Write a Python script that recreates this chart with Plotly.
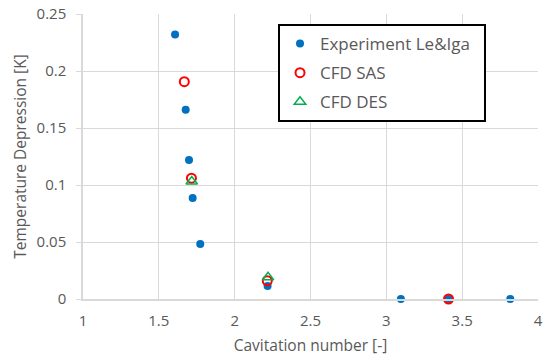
import plotly.graph_objects as go

# Experiment Le&Iga
exp_x = [1.607, 1.677, 1.699, 1.723, 1.773, 2.217, 3.096, 3.41, 3.817]
exp_y = [0.232, 0.166, 0.122, 0.0886, 0.0482, 0.0115, 0.0, 0.0, 0.0]

# CFD SAS
sas_x = [1.668, 1.715, 2.215, 3.41]
sas_y = [0.1906, 0.106, 0.016, 0.0]

# CFD DES
des_x = [1.717, 2.22]
des_y = [0.103, 0.019]

x_ticks = [1, 1.5, 2, 2.5, 3, 3.5, 4]
x_tick_labels = ["1", "1.5", "2", "2.5", "3", "3.5", "4"]
y_ticks = [0, 0.05, 0.1, 0.15, 0.2, 0.25]
y_tick_labels = ["0", "0.05", "0.1", "0.15", "0.2", "0.25"]

grey = "#595959"
grid = "#d9d9d9"
font_family = "Open Sans, Segoe UI, sans-serif"

fig = go.Figure()
fig.add_trace(go.Scatter(
    x=exp_x, y=exp_y, mode="markers", name="Experiment Le&Iga\u00a0\u00a0",
    marker=dict(symbol="circle", size=8, color="#0070C0", line=dict(width=0)),
    legendgroup="a", cliponaxis=False))
fig.add_trace(go.Scatter(
    x=sas_x, y=sas_y, mode="markers", name="CFD SAS",
    marker=dict(symbol="circle-open", size=9, color="#FF0000", line=dict(width=2)),
    legendgroup="b", cliponaxis=False))
fig.add_trace(go.Scatter(
    x=des_x, y=des_y, mode="markers", name="CFD DES",
    marker=dict(symbol="triangle-up-open", size=10, color="#00B050", line=dict(width=1.5)),
    legendgroup="c", cliponaxis=False))

fig.update_layout(
    width=550, height=364,
    margin=dict(l=83, r=12, t=14, b=65, autoexpand=False),
    paper_bgcolor="white", plot_bgcolor="white",
    font=dict(family=font_family, size=15, color=grey),
    showlegend=True,
    legend=dict(
        x=0.4286, y=0.965, xanchor="left", yanchor="top",
        bgcolor="white", bordercolor="black", borderwidth=2,
        font=dict(size=17, color=grey), tracegroupgap=4,
    ),
    xaxis=dict(
        range=[1, 4], tickvals=x_ticks, ticktext=x_tick_labels,
        showgrid=True, gridcolor=grid, gridwidth=1,
        showline=True, linecolor=grid, linewidth=1.5,
        zeroline=False, ticks="", mirror=False, automargin=False,
        tickfont=dict(size=15, color=grey), ticklabelstandoff=7,
        title=dict(text="Cavitation number [-]", font=dict(size=15.5, color=grey), standoff=11),
    ),
    yaxis=dict(
        range=[0, 0.25], tickvals=y_ticks, ticktext=y_tick_labels,
        showgrid=True, gridcolor=grid, gridwidth=1,
        showline=True, linecolor=grid, linewidth=1.5,
        zeroline=False, ticks="outside", ticklen=5, tickcolor=grid, automargin=False,
        tickfont=dict(size=15, color=grey), ticklabelstandoff=7,
        title=dict(text="Temperature Depression [K]", font=dict(size=15.5, color=grey), standoff=6),
    ),
)

fig.write_html("out.html", config={"displayModeBar": False},
               post_script="document.body.style.margin='0';")
